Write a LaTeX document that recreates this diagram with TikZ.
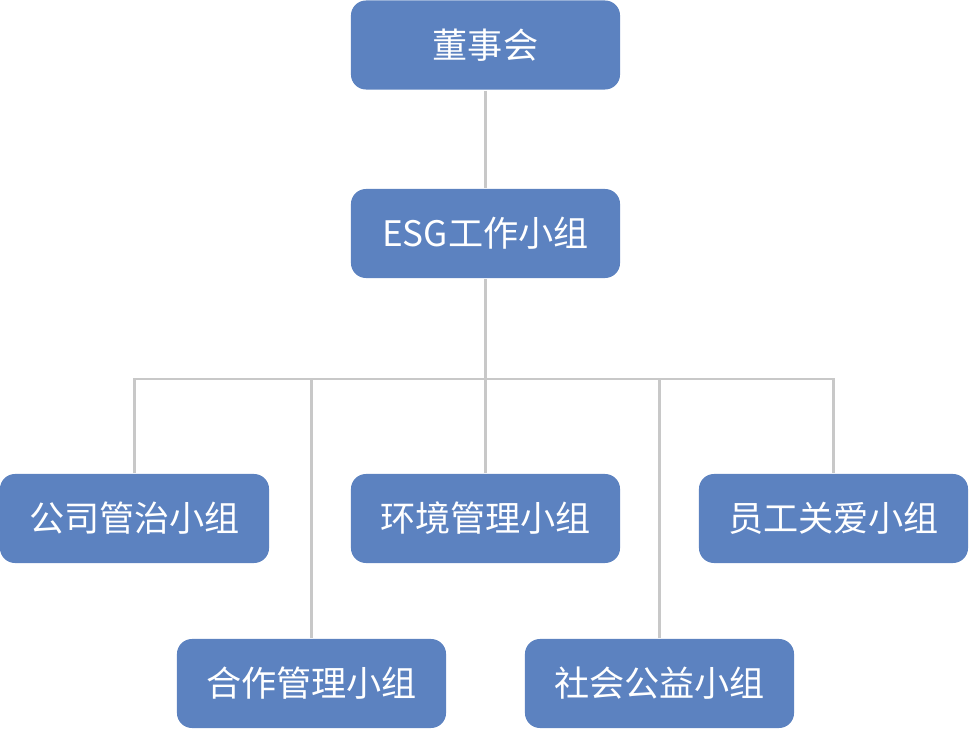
\documentclass[tikz,border=0pt]{standalone}
\usepackage{fontspec}
\newfontfamily\cjk{Noto Sans CJK SC}
\usetikzlibrary{positioning}
\definecolor{boxblue}{RGB}{92,130,192}
\definecolor{linegray}{RGB}{200,200,200}
\tikzset{every picture/.append style={line width=1.8pt}}

\begin{document}
\begin{tikzpicture}[x=0.025cm,y=-0.025cm]
      \tikzstyle{group}=[rectangle,rounded corners=0.375cm,fill=boxblue,text=white,
        minimum width=6.725cm,minimum height=2.225cm,inner sep=0pt,
        font=\cjk\fontsize{25}{30}\selectfont]
      \tikzstyle{link}=[draw=linegray]
      \useasboundingbox (0,0) rectangle (969,729);
      \node[group] at (485.5,45) (board) {董事会};
      \node[group] at (485.5,233.5) (esg) {ESG工作小组};
      \node[group] at (134.5,518.5) (gov) {公司管治小组};
      \node[group] at (485.5,518.5) (env) {环境管理小组};
      \node[group] at (833.5,518.5) (staff) {员工关爱小组};
      \node[group] at (311.5,683.5) (coop) {合作管理小组};
      \node[group] at (659.5,683.5) (pub) {社会公益小组};
      \coordinate (bus) at (485.5,379);
      \draw[link] (board) -- (esg);
      \draw[link] (esg) -- (bus);
      \draw[link] (bus) -| (gov);
      \draw[link] (bus) -| (staff);
      \draw[link] (bus) -- (env);
      \draw[link] (bus) -| (coop);
      \draw[link] (bus) -| (pub);
    \end{tikzpicture}
\end{document}
